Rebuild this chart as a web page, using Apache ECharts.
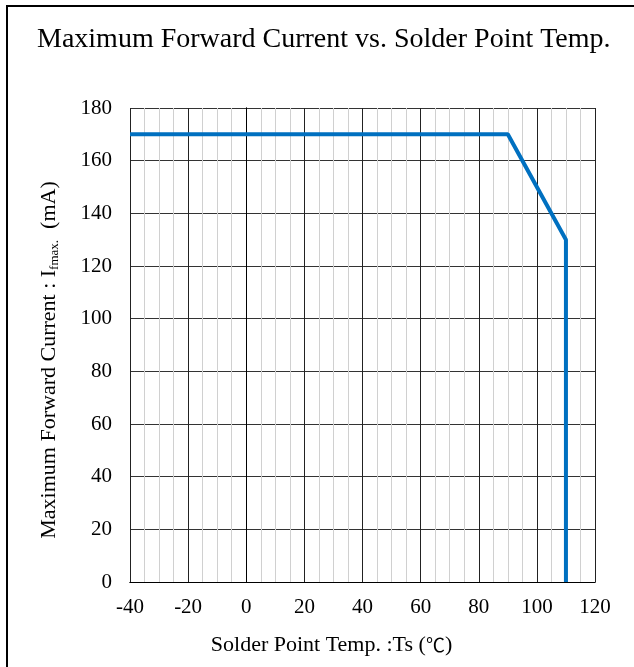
<!DOCTYPE html>
<html>
<head>
<meta charset="utf-8">
<script src="https://cdn.jsdelivr.net/npm/echarts@6/dist/echarts.min.js"></script>
<style>
  html, body { margin: 0; padding: 0; background: #fff; }
  #chart { width: 634px; height: 667px; }
</style>
</head>
<body>
<div id="chart"></div>
<script>
// derating curve: solder point temp (℃) vs max forward current (mA)
const temps = [-40, 90, 110, 110];
const currents = [170, 170, 130, 0];
const xTicks = [-40, 120, 20];   // min, max, step
const yTicks = [0, 180, 20];

const serif = '"Liberation Serif", "Times New Roman", serif';
const cjk = '"Noto Sans CJK JP", serif';
const chart = echarts.init(document.getElementById('chart'));

// hidden axis used only to close the plot box on top / right
const frameAxis = (pos, t) => ({
    type: 'value', position: pos, min: t[0], max: t[1],
    axisLine: { show: true, lineStyle: { color: '#000' } },
    axisTick: { show: false }, axisLabel: { show: false }, splitLine: { show: false },
});

chart.setOption({
    animation: false,
    title: {
        text: 'Maximum Forward Current vs. Solder Point Temp.',
        left: 32,
        top: 21,
        textStyle: { fontFamily: serif, fontSize: 28, fontWeight: 'normal', color: '#000' },
    },
    // outer frame (only top and left show in the picture)
    graphic: [{
        type: 'polyline',
        shape: { points: [[7, 667], [7, 6], [634, 6]] },
        style: { fill: 'none', stroke: '#000', lineWidth: 2 },
        silent: true,
    }],
    grid: { left: 130, right: 39, top: 108, bottom: 85 },
    xAxis: [{
        type: 'value',
        min: xTicks[0],
        max: xTicks[1],
        interval: xTicks[2],
        name: '{n|Solder Point Temp. :Ts (}{c|℃}{n|)}',
        nameLocation: 'middle',
        nameGap: 52,
        nameTextStyle: {
            fontFamily: serif, fontSize: 22, color: '#000', padding: [0, 62, 0, 0],
            rich: {
                n: { fontFamily: serif, fontSize: 22, color: '#000' },
                c: { fontFamily: cjk, fontSize: 19, color: '#000' },
            },
        },
        axisLine: { lineStyle: { color: '#000', width: 1 } },
        axisTick: { show: false },
        axisLabel: { fontFamily: serif, fontSize: 21, color: '#000', margin: 15 },
        splitLine: { show: true, lineStyle: { color: '#222', width: 1 } },
        minorTick: { show: false, splitNumber: 4 },
        minorSplitLine: { show: true, lineStyle: { color: '#d0d0d0', width: 1 } },
    }, frameAxis('top', xTicks)],
    yAxis: [{
        type: 'value',
        min: yTicks[0],
        max: yTicks[1],
        interval: yTicks[2],
        name: '{n|Maximum Forward Current : I}{s|fmax.}{n|  (mA)}',
        nameLocation: 'middle',
        nameGap: 69,
        nameTextStyle: {
            fontFamily: serif, fontSize: 22, color: '#000',
            padding: [0, 30, 0, 0],
            rich: {
                n: { fontFamily: serif, fontSize: 22, color: '#000' },
                s: { fontFamily: serif, fontSize: 13, color: '#000', verticalAlign: 'bottom', padding: [10, 0, 0, 0] },
            },
        },
        axisLine: { show: true, lineStyle: { color: '#000', width: 1 } },
        axisTick: { show: false },
        axisLabel: { fontFamily: serif, fontSize: 21, color: '#000', margin: 18 },
        splitLine: { show: true, lineStyle: { color: '#333', width: 1 } },
    }, frameAxis('right', yTicks)],
    series: [{
        type: 'line',
        data: temps.map((t, i) => [t, currents[i]]),
        symbol: 'none',
        lineStyle: { color: '#0070C0', width: 4 },
        z: 5,
    }],
});
</script>
</body>
</html>
